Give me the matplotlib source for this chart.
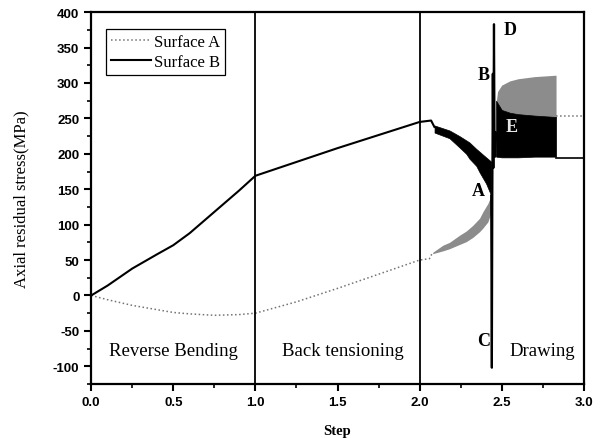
import numpy as np
import matplotlib
matplotlib.use('Agg')
import matplotlib.pyplot as plt
from matplotlib.ticker import MultipleLocator

plt.rcParams['axes.unicode_minus'] = False

# Surface A (dotted) - smooth part
a_x = [0.0, 0.1, 0.25, 0.4, 0.5, 0.6, 0.75, 0.9, 1.0, 1.25, 1.5, 1.75, 2.0, 2.06, 2.08]
a_y = [0, -6, -14, -20, -24, -26, -28, -27, -25, -9, 10, 30, 50, 52, 61]
# Surface A oscillation band (envelopes)
a_band1_x = [2.08, 2.142, 2.182, 2.243, 2.284, 2.324, 2.365, 2.385, 2.416, 2.436]
a_band1_lo = [59, 63, 66, 72, 76, 82, 90, 95, 104, 118]
a_band1_hi = [61, 71, 75, 85, 91, 99, 109, 118, 130, 141]
a_band2_x = [2.466, 2.475, 2.5, 2.55, 2.6, 2.7, 2.831]
a_band2_lo = [262, 260, 258, 254, 252, 251, 250]
a_band2_hi = [272, 288, 297, 303, 306, 309, 311]
a_tail_x = [2.831, 3.0]
a_tail_y = [253, 253]

# Surface B (solid)
b_x = [0.0, 0.1, 0.25, 0.4, 0.5, 0.6, 0.75, 0.9, 1.0, 1.5, 2.0, 2.07, 2.09]
b_y = [0, 14, 38, 58, 71, 88, 118, 148, 169, 208, 245, 247, 238]
b_band1_x = [2.091, 2.182, 2.243, 2.284, 2.304, 2.345, 2.365, 2.405, 2.436]
b_band1_lo = [230, 222, 209, 200, 193, 183, 174, 158, 141]
b_band1_hi = [240, 233, 225, 219, 216, 207, 203, 195, 189]
b_spike_x = [2.436, 2.440, 2.443, 2.446, 2.449, 2.453, 2.456, 2.460, 2.466]
b_spike_y = [141, -102, 150, 313, 180, 383, 230, 196, 230]
b_band2_x = [2.466, 2.5, 2.55, 2.6, 2.7, 2.831]
b_band2_lo = [196, 195, 195, 195, 196, 196]
b_band2_hi = [275, 262, 258, 256, 254, 252]
b_tail_x = [2.831, 3.0]
b_tail_y = [194, 194]

# Stage labels and point labels
stage_names = ['Reverse Bending', 'Back tensioning', 'Drawing']
stage_x = [0.5, 1.53, 2.75]
stage_y = [-77, -77, -77]
point_names = ['A', 'B', 'C', 'D', 'E']
point_x = [2.36, 2.39, 2.39, 2.55, 2.56]
point_y = [148, 312, -63, 376, 238]
vlines_x = [1.0, 2.0]

fig = plt.figure(figsize=(6.0, 4.39), dpi=100)
ax = fig.add_axes([0.152, 0.123, 0.821, 0.847])

grayc = '0.45'
# surface A
ax.plot(a_x, a_y, color=grayc, ls=':', lw=1.1, label='Surface A')
ax.fill_between(a_band1_x, a_band1_lo, a_band1_hi, color='0.55', lw=0)
ax.fill_between(a_band2_x, a_band2_lo, a_band2_hi, color='0.55', lw=0)
ax.plot(a_tail_x, a_tail_y, color=grayc, ls=':', lw=1.1)

# surface B
ax.plot(b_x, b_y, color='k', lw=1.5, label='Surface B')
ax.fill_between(b_band1_x, b_band1_lo, b_band1_hi, color='k', lw=0.5)
ax.plot(b_spike_x, b_spike_y, color='k', lw=1.6)
ax.fill_between(b_band2_x, b_band2_lo, b_band2_hi, color='k', lw=0.5)
ax.plot(b_tail_x, b_tail_y, color='k', lw=1.2)

for xv in vlines_x:
    ax.axvline(xv, color='k', lw=1.3)

serif = 'Liberation Serif'
for name, x, y in zip(stage_names, stage_x, stage_y):
    ax.text(x, y, name, ha='center', va='center', fontsize=13.5, family=serif)
for name, x, y in zip(point_names, point_x, point_y):
    ax.text(x, y, name, ha='center', va='center', fontsize=13, family=serif,
            fontweight='bold', color='0.9' if name == 'E' else 'k')

ax.set_xlim(0, 3.0)
ax.set_ylim(-125, 400)
ax.xaxis.set_major_locator(MultipleLocator(0.5))
ax.xaxis.set_minor_locator(MultipleLocator(0.25))
ax.yaxis.set_major_locator(MultipleLocator(50))
ax.yaxis.set_minor_locator(MultipleLocator(25))
ax.tick_params(which='major', direction='out', length=5, width=1.5)
ax.tick_params(which='minor', direction='out', length=3, width=1.2)
ax.set_xticklabels([f'{v:.1f}' for v in ax.get_xticks()])
for lab in ax.get_xticklabels() + ax.get_yticklabels():
    lab.set_family('Liberation Sans')
    lab.set_fontweight('bold')
    lab.set_fontsize(9.5)
for sp in ax.spines.values():
    sp.set_linewidth(1.6)

ax.set_xlabel('Step', family=serif, fontweight='bold', fontsize=10.5, labelpad=12)
ax.set_ylabel('Axial residual stress(MPa)', family=serif, fontsize=12, labelpad=17)

leg = ax.legend(loc='upper left', bbox_to_anchor=(0.03, 0.955), borderaxespad=0,
                fancybox=False, framealpha=1, edgecolor='k', handlelength=2.4,
                handletextpad=0.2, borderpad=0.3, labelspacing=0.25,
                prop={'family': serif, 'size': 12})
leg.get_frame().set_linewidth(0.9)

fig.savefig('out.png', dpi=100)
